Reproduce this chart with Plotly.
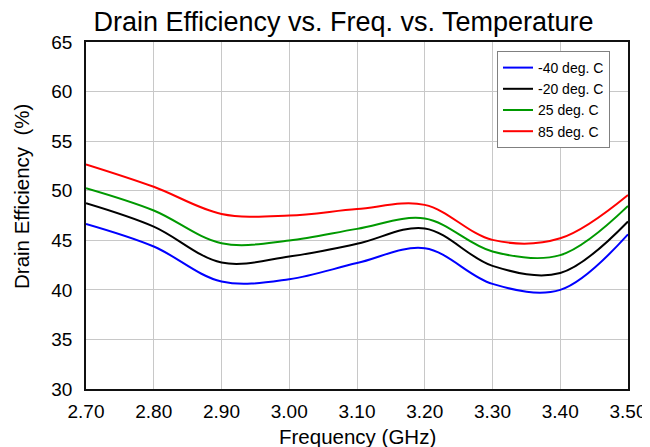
import plotly.graph_objects as go

freq = [2.70, 2.80, 2.90, 3.00, 3.10, 3.20, 3.30, 3.40, 3.50]
eff_m40 = [46.65, 44.37, 40.84, 41.08, 42.70, 44.20, 40.60, 40.00, 45.60]
eff_m20 = [48.74, 46.38, 42.76, 43.36, 44.64, 46.20, 42.42, 41.70, 46.90]
eff_25 = [50.25, 48.00, 44.70, 44.97, 46.15, 47.20, 43.87, 43.50, 48.46]
eff_85 = [52.66, 50.40, 47.66, 47.50, 48.15, 48.57, 45.04, 45.20, 49.57]
names = ["-40 deg. C", "-20 deg. C", "25 deg. C", "85 deg. C"]
colors = ["#0000ff", "#000000", "#009900", "#ff0000"]
series = [eff_m40, eff_m20, eff_25, eff_85]
x_ticks = [2.70, 2.80, 2.90, 3.00, 3.10, 3.20, 3.30, 3.40, 3.50]
y_ticks = [30, 35, 40, 45, 50, 55, 60, 65]

FONT = "Liberation Sans, Arial, sans-serif"
OFF = 8  # page body margin
W, H = 650 - OFF, 447 - OFF
# plot area in page pixels: left 86, right 628, top 42, bottom 389
L, R, T, B = 86 - OFF, 650 - 628, 42 - OFF, 447 - 389
PW, PH = W - L - R, H - T - B

fig = go.Figure()
for nm, col, ys in zip(names, colors, series):
    fig.add_trace(go.Scatter(
        x=freq, y=ys, name=nm, mode="lines",
        line=dict(color=col, width=2, shape="spline", smoothing=1.0),
    ))

fig.update_layout(
    width=W, height=H,
    margin=dict(l=L, r=R, t=T, b=B, autoexpand=False),
    paper_bgcolor="white", plot_bgcolor="white",
    font=dict(family=FONT, color="black"),
    title=dict(text="Drain Efficiency vs. Freq. vs. Temperature",
               x=(343.5 - OFF) / W, xanchor="center", y=1 - (22 - OFF) / H, yanchor="middle",
               font=dict(size=27, family=FONT, color="black")),
    showlegend=True,
    legend=dict(x=(497 - 86) / PW, y=1 - (51 - 42) / PH,
                xanchor="left", yanchor="top",
                bgcolor="white", bordercolor="#808080", borderwidth=1,
                font=dict(size=14, family=FONT, color="black"),
                itemwidth=30, entrywidth=112, entrywidthmode="pixels"),
    annotations=[
        dict(text="Frequency (GHz)", xref="paper", yref="paper",
             x=0.5, y=-(436 - 389) / PH, xanchor="center", yanchor="middle",
             showarrow=False, font=dict(size=20.5, family=FONT, color="black")),
        dict(text="Drain Efficiency  (%)", xref="paper", yref="paper",
             x=-(86 - 21) / PW, y=1 - (197 - 42) / PH,
             xanchor="center", yanchor="middle", textangle=-90,
             showarrow=False, font=dict(size=20.5, family=FONT, color="black")),
    ],
)
fig.update_xaxes(
    range=[2.70, 3.50], tickvals=x_ticks, tickformat=".2f",
    showgrid=True, gridcolor="#c8c8c8", gridwidth=1,
    showline=True, linecolor="#111111", linewidth=1.5, mirror=True,
    ticks="", tickfont=dict(size=19, family=FONT), ticklabelstandoff=4,
    automargin=False, zeroline=False,
)
fig.update_yaxes(
    range=[30, 65], tickvals=y_ticks,
    showgrid=True, gridcolor="#c8c8c8", gridwidth=1,
    showline=True, linecolor="#111111", linewidth=1.5, mirror=True,
    ticks="", tickfont=dict(size=19, family=FONT), ticklabelstandoff=8,
    automargin=False, zeroline=False,
)

fig.write_html("out.html")
